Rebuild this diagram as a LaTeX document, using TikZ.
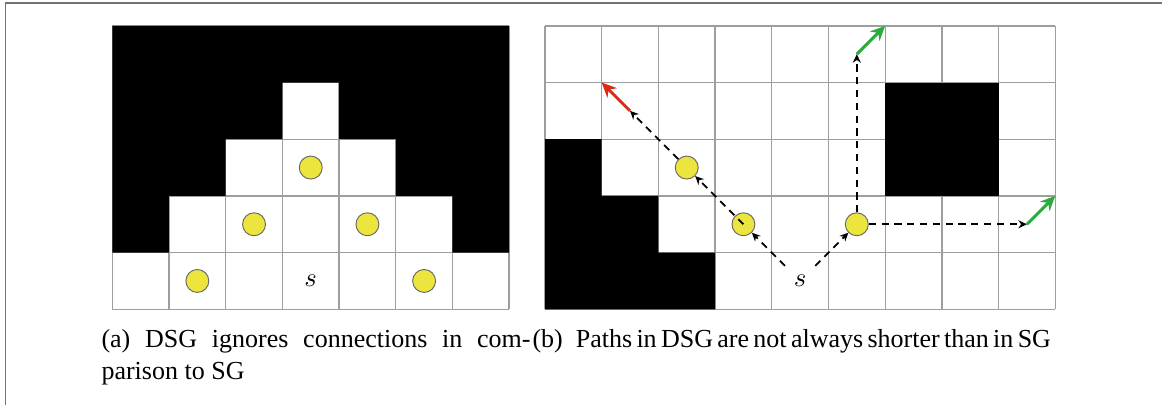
\documentclass[tikz,border=0pt]{standalone}
\usepackage{fontspec}
\setmainfont{Liberation Serif}
\usetikzlibrary{arrows.meta}
\definecolor{gridgray}{RGB}{158,158,158}
\definecolor{framegray}{RGB}{115,115,115}
\definecolor{dotyellow}{RGB}{235,229,62}
\definecolor{arrred}{RGB}{218,42,22}
\definecolor{arrgreen}{RGB}{44,170,60}
\tikzset{
  cellgrid/.style={draw=gridgray, line width=0.5pt},
  wall/.style={fill=black},
  dot/.style={circle, fill=dotyellow, draw=black!60, line width=0.35pt, minimum size=8.6pt, inner sep=0pt},
  startlbl/.style={inner sep=0.333em, font=\fontsize{10}{12}\selectfont},
  dpath/.style={dash pattern=on 2.7pt off 2.1pt, line width=0.65pt, -{Stealth[length=3.2pt,width=3pt]}},
  redarr/.style={draw=arrred, fill=arrred, line width=1.1pt, -{Stealth[length=5.5pt,width=5pt]}},
  greenarr/.style={draw=arrgreen, fill=arrgreen, line width=1.1pt, -{Stealth[length=5.5pt,width=5pt]}},
  capt/.style={anchor=base west, inner sep=0pt, font=\rmfamily\fontsize{9.75}{12}\selectfont},
  framel/.style={draw=framegray, line width=0.55pt}
}
\begin{document}
\begin{tikzpicture}[x=0.375pt, y=-0.375pt]
\useasboundingbox (0,0) rectangle (1162,405);
% outer frame
\coordinate (fa) at (5.7,405);
\coordinate (fb) at (5.7,3);
\coordinate (fc) at (1162,3);
\draw[framel] (fa) -- (fb) -- (fc);

% ---------- (a) left grid ----------
\begin{scope}[shift={(112.3,309.3)}, x=21.26pt, y=21.26pt]
  \foreach \i in {0,...,7} \draw[cellgrid] (\i,0) -- (\i,5);
  \foreach \j in {0,...,5} \draw[cellgrid] (0,\j) -- (7,\j);
  \fill[wall] (0,1) -- (1,1) -- (1,2) -- (2,2) -- (2,3) -- (3,3) -- (3,4) -- (4,4) -- (4,3) -- (5,3) -- (5,2) -- (6,2) -- (6,1) -- (7,1) -- (7,5) -- (0,5) -- cycle;
  \node[dot] (a1) at (3.5,2.5) {};
  \node[dot] (a2) at (2.5,1.5) {};
  \node[dot] (a3) at (4.5,1.5) {};
  \node[dot] (a4) at (1.5,0.5) {};
  \node[dot] (a5) at (5.5,0.5) {};
  \node[startlbl] (as) at (3.5,0.5) {$s$};
\end{scope}

% ---------- (b) right grid ----------
\begin{scope}[shift={(545,309.3)}, x=21.26pt, y=21.26pt]
  \foreach \i in {0,...,9} \draw[cellgrid] (\i,0) -- (\i,5);
  \foreach \j in {0,...,5} \draw[cellgrid] (0,\j) -- (9,\j);
  \fill[wall] (0,0) -- (3,0) -- (3,1) -- (2,1) -- (2,2) -- (1,2) -- (1,3) -- (0,3) -- cycle;
  \fill[wall] (6,2) rectangle (8,4);
  \node[dot] (b1) at (2.5,2.5) {};
  \node[dot] (b2) at (3.5,1.5) {};
  \node[dot] (b3) at (5.5,1.5) {};
  \node[startlbl] (bs) at (4.5,0.5) {$s$};
  \coordinate (r1) at (1.5,3.5);
  \coordinate (r2) at (1,4);
  \coordinate (g1) at (5.5,4.5);
  \coordinate (g2) at (6,5);
  \coordinate (h1) at (8.5,1.5);
  \coordinate (h2) at (9,2);
  \draw[dpath] (bs) -- (b2);
  \draw[dpath] (b2.center) -- (b1);
  \draw[dpath] (b1) -- (r1);
  \draw[redarr] (r1) -- (r2);
  \draw[dpath] (bs) -- (b3);
  \draw[dpath] (b3) -- (g1);
  \draw[greenarr] (g1) -- (g2);
  \draw[dpath] (b3) -- (h1);
  \draw[greenarr] (h1) -- (h2);
\end{scope}

% ---------- captions ----------
\node[capt] (capa1) at (101,347.3) {\makebox[160.9pt][s]{(a) DSG ignores connections in com-}};
\node[capt] (capa2) at (101,379.5) {parison to SG};
\node[capt] (capb) at (532,347.3) {\makebox[192.75pt][s]{(b)\hspace{0.5em}Paths in DSG are not always shorter than in SG}};
\end{tikzpicture}
\end{document}
